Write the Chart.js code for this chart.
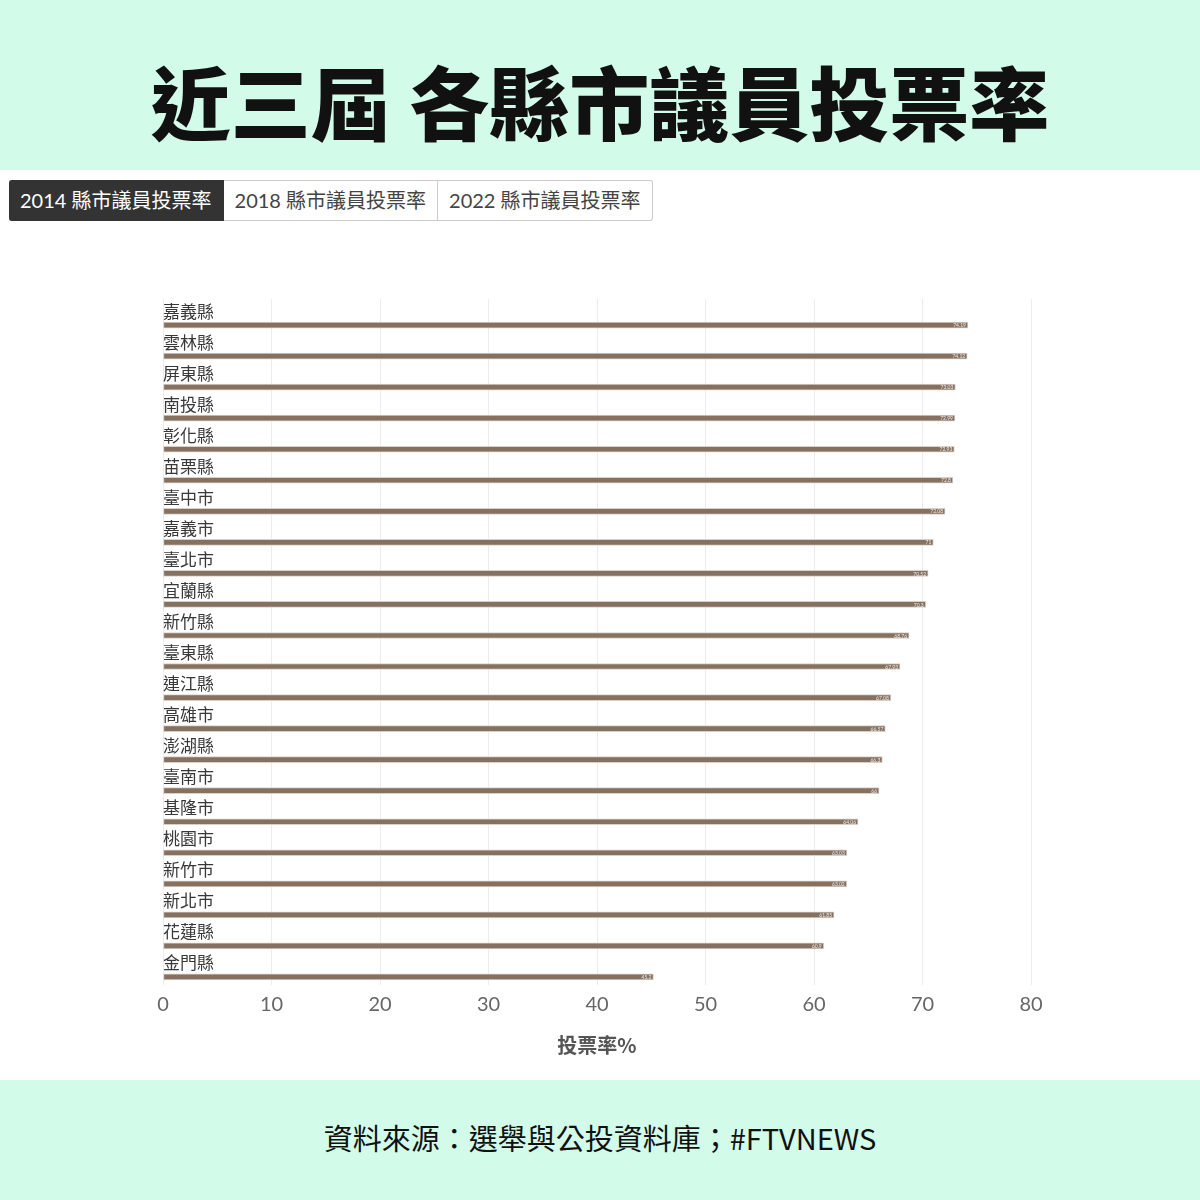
<!DOCTYPE html>
<html>
<head>
<meta charset="utf-8">
<script src="https://cdn.jsdelivr.net/npm/chart.js@4.4.0/dist/chart.umd.min.js"></script>
<style>
  body { margin: 0; width: 1200px; height: 1200px; background: #fff; position: relative; overflow: hidden;
         font-family: "Noto Sans CJK TC", "Noto Sans", sans-serif; }
  #head { position: absolute; left: 0; top: 0; width: 1200px; height: 170px; background: #d2fbea;
          text-align: center; font-size: 80px; font-weight: 900; line-height: 198px; color: #111; }
  #tabs { position: absolute; left: 9px; top: 180px; display: flex; }
  .tab { height: 39px; line-height: 39px; padding: 0 11px; font-size: 20px; color: #444; background: #fff;
         border: 1px solid #ccc; border-left: none; font-family: Lato, "Noto Sans CJK TC", sans-serif; }
  .tab:first-child { background: #333; color: #fff; border-color: #333; border-radius: 3px 0 0 3px; }
  .tab:last-child { border-radius: 0 3px 3px 0; }
  #wrap { position: absolute; left: 0; top: 240px; width: 1200px; height: 830px; }
  #foot { position: absolute; left: 0; top: 1080px; width: 1200px; height: 120px; background: #d2fbea;
          text-align: center; font-size: 29px; line-height: 114px; color: #111; }
</style>
</head>
<body>
<div id="head">近三屆 各縣市議員投票率</div>
<div id="tabs">
  <div class="tab">2014 縣市議員投票率</div>
  <div class="tab">2018 縣市議員投票率</div>
  <div class="tab">2022 縣市議員投票率</div>
</div>
<div id="wrap"><canvas id="chart"></canvas></div>
<div id="foot">資料來源：選舉與公投資料庫；#FTVNEWS</div>
<script>
/*
Data: 2014 council election turnout (%)
*/
const counties = ["嘉義縣", "雲林縣", "屏東縣", "南投縣", "彰化縣", "苗栗縣", "臺中市", "嘉義市",
    "臺北市", "宜蘭縣", "新竹縣", "臺東縣", "連江縣", "高雄市", "澎湖縣", "臺南市", "基隆市",
    "桃園市", "新竹市", "新北市", "花蓮縣", "金門縣"];
const turnout = [74.19, 74.12, 73.03, 72.99, 72.93, 72.8, 72.08, 71, 70.52, 70.3, 68.76, 67.93,
    67.08, 66.57, 66.3, 66, 64.06, 63.03, 63.02, 61.85, 60.9, 45.2];
const xTicks = [0, 10, 20, 30, 40, 50, 60, 70, 80];

/*
Draw county names above bars and tiny value labels inside bar ends
*/
const rowLabels = {
    id: "rowLabels",
    afterDatasetsDraw(chart) {
        const ctx = chart.ctx;
        const xs = chart.scales.x;
        const ys = chart.scales.y;
        ctx.save();
        counties.forEach((name, i) => {
            const y = ys.getPixelForValue(i);
            ctx.font = "17px 'Noto Sans CJK TC'";
            ctx.fillStyle = "#383838";
            ctx.textAlign = "left";
            ctx.textBaseline = "middle";
            ctx.fillText(name, xs.getPixelForValue(0), y - 14);
            ctx.font = "5px Lato";
            ctx.fillStyle = "#eee";
            ctx.textAlign = "right";
            ctx.fillText(String(turnout[i]), xs.getPixelForValue(turnout[i]) - 2, y + 0.5);
        });
        ctx.restore();
    }
};

const ctx = document.getElementById("chart").getContext("2d");
new Chart(ctx, {
    type: "bar",
    data: {
        datasets: [{
            data: turnout.map((v, i) => ({ x: v, y: i })),
            backgroundColor: "#86705f",
            borderColor: "#d9cfc8",
            borderWidth: 1,
            borderSkipped: false,
            barThickness: 6,
        }]
    },
    options: {
        indexAxis: "y",
        responsive: true,
        maintainAspectRatio: false,
        animation: false,
        layout: { padding: { left: 163, right: 169, top: 59, bottom: 9 } },
        plugins: { legend: { display: false }, tooltip: { enabled: false } },
        scales: {
            x: {
                type: "linear",
                min: 0,
                max: 80,
                afterBuildTicks: (scale) => { scale.ticks = xTicks.map(v => ({ value: v })); },
                grid: { color: "#ececec", drawTicks: false },
                border: { display: false },
                ticks: { color: "#666", font: { family: "Lato", size: 20 }, padding: 8 },
                title: { display: true, text: "投票率%", color: "#555",
                         font: { family: "'Noto Sans CJK TC'", size: 20, weight: "bold" }, padding: { top: 8 } }
            },
            y: {
                type: "linear",
                reverse: true,
                offset: false,
                min: -0.84,
                max: 21.26,
                display: false
            }
        }
    },
    plugins: [rowLabels]
});
</script>
</body>
</html>
